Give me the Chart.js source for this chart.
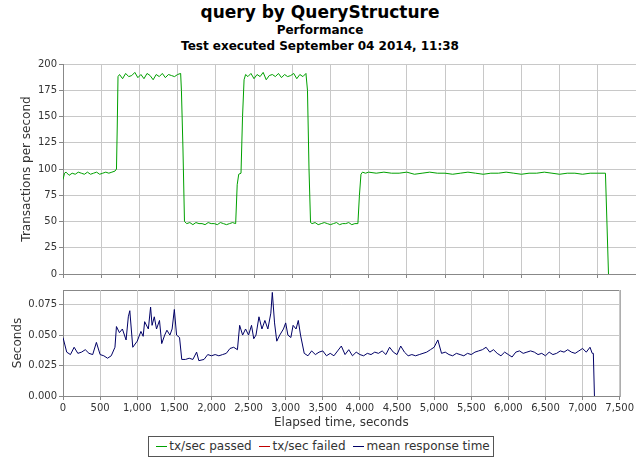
<!DOCTYPE html>
<html><head><meta charset="utf-8">
<script src="https://cdn.jsdelivr.net/npm/chart.js@4"></script>
<style>
body{margin:0;width:640px;height:460px;background:#fff;font-family:"DejaVu Sans",sans-serif;position:relative;overflow:hidden}
.t{position:absolute;left:0;width:640px;text-align:center;font-weight:bold;color:#000}
canvas{position:absolute;left:0}
#leg{position:absolute;left:148px;top:436px;width:344px;height:19px;border:1px solid #555;font-size:12px;line-height:19px;color:#333;white-space:nowrap;text-align:center}
#leg span.l{display:inline-block;width:11px;height:1px;vertical-align:middle;margin:0 2px 0 4px}
</style></head><body>
<div class="t" style="top:2px;font-size:17px">query by QueryStructure</div>
<div class="t" style="top:23px;font-size:12px">Performance</div>
<div class="t" style="top:39px;font-size:12px">Test executed September 04 2014, 11:38</div>
<div style="position:absolute;left:0;top:56px;width:636px;height:226px"><canvas id="c1"></canvas></div>
<div style="position:absolute;left:0;top:282px;width:636px;height:152px"><canvas id="c2"></canvas></div>
<div id="leg"><span class="l" style="background:#00a000"></span>tx/sec passed <span class="l" style="background:#c00000"></span>tx/sec failed <span class="l" style="background:#000066"></span>mean response time</div>
<script>
const passedT=[0,20,40,80,120,160,200,240,280,320,360,400,440,480,520,560,600,640,680,700,710,720,740,780,820,860,900,940,980,1020,1060,1100,1140,1180,1220,1260,1300,1340,1380,1420,1460,1500,1540,1550,1570,1590,1620,1660,1700,1740,1780,1820,1860,1900,1940,1980,2020,2060,2100,2140,2180,2220,2260,2280,2300,2330,2350,2370,2390,2420,2460,2500,2540,2580,2620,2660,2700,2740,2780,2820,2860,2900,2940,2980,3020,3060,3100,3140,3180,3200,3220,3240,3260,3300,3340,3380,3420,3460,3500,3540,3580,3620,3660,3700,3740,3780,3820,3860,3880,3900,3920,3960,4000,4100,4200,4300,4400,4500,4600,4700,4800,4900,5000,5100,5200,5300,5400,5500,5600,5700,5800,5900,6000,6100,6200,6300,6400,6500,6600,6700,6800,6900,7000,7100,7140,7170];
const passedV=[90,96,97,94,96,95,97,96,95,97,95,96,97,95,96,97,96,97,98,100,140,188,190,186,191,188,189,192,187,190,186,191,189,185,190,188,191,187,190,189,188,190,191,175,120,50,48,49,47,49,48,48,47,49,48,48,47,49,48,47,48,49,48,85,95,96,150,185,190,188,191,186,190,188,192,185,189,190,188,191,187,190,188,189,191,186,190,188,191,175,100,49,48,49,47,48,49,48,47,48,49,47,48,48,49,47,48,48,75,95,97,96,97,96,97,96,96,97,95,96,97,96,96,95,96,97,96,95,96,96,97,96,95,96,96,97,96,95,96,96,95,96,96,96,0];
const failedT=[];
const failedV=[];
const respT=[0,50,100,150,200,250,300,350,400,450,500,550,600,650,700,
720,760,800,850,880,900,940,1000,1050,1080,1100,1150,1180,1200,1230,1260,1300,1330,1370,1400,1440,1470,1500,1530,1570,
1600,1650,1700,1750,1800,1830,1900,1950,2000,2050,2100,2150,2200,2250,2300,2350,
2380,2420,2460,2500,2540,2570,2600,2640,2680,2720,2760,2800,2820,2850,2880,2920,2970,3000,3030,3070,3100,3140,3170,3200,
3250,3300,3350,3400,3450,3500,3550,3600,3650,3700,
3750,3800,3850,3900,3950,4000,4050,4100,4150,4200,
4250,4300,4350,4400,4450,4500,4550,4600,4650,4700,
4750,4800,4850,4900,4950,5000,5050,5100,5150,5200,
5250,5300,5350,5400,5450,5500,5550,5600,5650,5700,
5750,5800,5850,5900,5950,6000,6050,6100,6150,6200,
6250,6300,6350,6400,6450,6500,6550,6600,6650,6700,
6750,6800,6850,6900,6950,7000,7050,7100,7130,7145,7160];
const respV=[0.048,0.036,0.034,0.040,0.035,0.036,0.038,0.035,0.034,0.044,0.034,0.033,0.031,0.033,0.040,
0.057,0.052,0.055,0.046,0.065,0.070,0.040,0.045,0.053,0.049,0.061,0.055,0.073,0.058,0.065,0.055,0.062,0.043,0.050,0.054,0.050,0.055,0.071,0.050,0.048,
0.030,0.030,0.031,0.030,0.036,0.029,0.030,0.034,0.033,0.034,0.033,0.034,0.035,0.039,0.040,0.038,
0.058,0.050,0.055,0.050,0.058,0.047,0.050,0.065,0.055,0.062,0.055,0.068,0.085,0.060,0.045,0.050,0.055,0.060,0.050,0.048,0.058,0.055,0.062,0.050,
0.035,0.033,0.037,0.034,0.036,0.037,0.033,0.035,0.033,0.037,
0.041,0.034,0.038,0.033,0.036,0.034,0.033,0.035,0.034,0.036,
0.035,0.037,0.034,0.040,0.036,0.034,0.041,0.036,0.033,0.034,
0.033,0.034,0.035,0.036,0.038,0.040,0.046,0.035,0.036,0.034,
0.033,0.035,0.034,0.033,0.035,0.034,0.036,0.037,0.038,0.040,
0.036,0.038,0.035,0.033,0.036,0.034,0.032,0.036,0.037,0.035,
0.036,0.037,0.036,0.034,0.035,0.033,0.036,0.034,0.035,0.037,
0.036,0.038,0.036,0.035,0.037,0.039,0.036,0.040,0.035,0.035,0.0];
const xTicks=[0,500,1000,1500,2000,2500,3000,3500,4000,4500,5000,5500,6000,6500,7000,7500];
const tpsTicks=[0,25,50,75,100,125,150,175,200];
const secTicks=[0,0.025,0.05,0.075];

const pts=(t,v)=>t.map((x,i)=>({x:x,y:v[i]}));
const grid={color:'#c8c8c8',borderDash:[2,2],drawTicks:true,tickLength:4,tickColor:'#888'};
const border={color:'#888',width:1};
const font={family:'"DejaVu Sans",sans-serif',size:10};
Chart.defaults.animation=false;
const plotBg={id:'bg',beforeDraw(c){const a=c.chartArea,g=c.ctx;g.save();g.fillStyle='#fff';g.fillRect(a.left,a.top,a.right-a.left,a.bottom-a.top);g.strokeStyle='#888';g.strokeRect(a.left+0.5,a.top+0.5,a.right-a.left,a.bottom-a.top);g.restore();}};
new Chart(document.getElementById('c1'),{type:'line',
 data:{datasets:[{data:pts(passedT,passedV),borderColor:'#00a000',borderWidth:1,pointRadius:0,tension:0},
  {data:pts(failedT,failedV),borderColor:'#c00000',borderWidth:1,pointRadius:0}]},
 options:{responsive:true,maintainAspectRatio:false,layout:{padding:{top:5,bottom:0,right:0,left:20}},
  plugins:{legend:{display:false},tooltip:{enabled:false}},
  scales:{x:{type:'linear',min:0,max:7500,afterBuildTicks:s=>{s.ticks=xTicks.map(v=>({value:v}))},ticks:{display:false},grid:grid,border:border,afterFit:s=>{s.height=5}},
   y:{min:0,max:200,afterBuildTicks:s=>{s.ticks=tpsTicks.map(v=>({value:v}))},ticks:{font:font,color:'#333',padding:2},grid:grid,border:border,afterFit:s=>{s.width=43},
    title:{display:true,text:'Transactions per second',font:{family:'"DejaVu Sans",sans-serif',size:12},color:'#333',padding:0}}}},
 plugins:[plotBg]});
new Chart(document.getElementById('c2'),{type:'line',
 data:{datasets:[{data:pts(respT,respV),borderColor:'#000066',borderWidth:1,pointRadius:0,tension:0}]},
 options:{responsive:true,maintainAspectRatio:false,layout:{padding:{top:5,bottom:0,right:0,left:11}},
  plugins:{legend:{display:false},tooltip:{enabled:false}},
  scales:{x:{type:'linear',min:0,max:7500,afterBuildTicks:s=>{s.ticks=xTicks.map(v=>({value:v}))},
    ticks:{font:font,color:'#333',padding:2,maxRotation:0,autoSkip:false,callback:v=>v.toLocaleString('en-US')},grid:grid,border:border,afterFit:s=>{s.height=38},
    title:{display:true,text:'Elapsed time, seconds',font:{family:'"DejaVu Sans",sans-serif',size:12},color:'#333',padding:{top:2}}},
   y:{min:0,max:0.087,afterBuildTicks:s=>{s.ticks=secTicks.map(v=>({value:v}))},ticks:{font:font,color:'#333',padding:2,callback:v=>v.toFixed(3)},grid:grid,border:border,afterFit:s=>{s.width=52},
    title:{display:true,text:'Seconds',font:{family:'"DejaVu Sans",sans-serif',size:12},color:'#333',padding:0}}}},
 plugins:[plotBg]});
</script></body></html>
